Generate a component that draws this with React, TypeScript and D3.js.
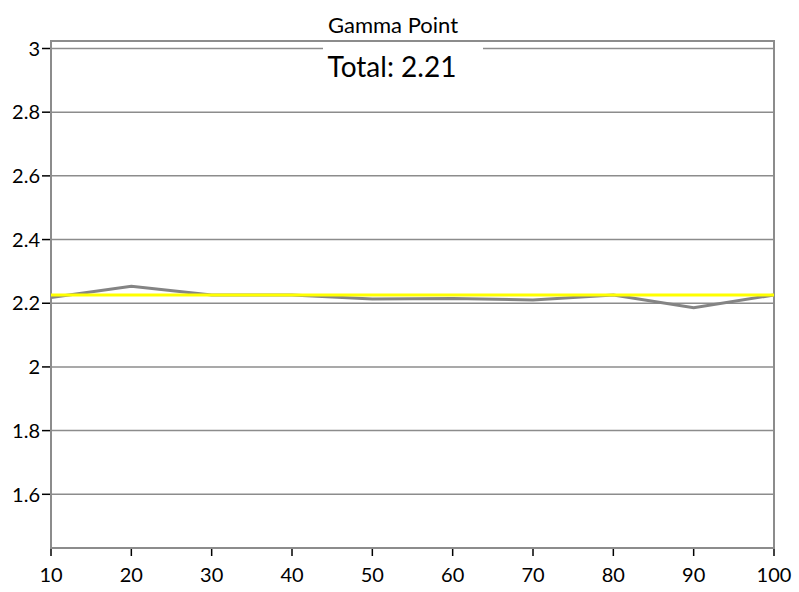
import React from "react";
import * as d3 from "d3";

const xValues = [10, 20, 30, 40, 50, 60, 70, 80, 90, 100];
const gammaValues = [2.218, 2.253, 2.226, 2.226, 2.213, 2.215, 2.21, 2.226, 2.186, 2.226];
const targetGamma = 2.226;
const yTicks = [1.6, 1.8, 2, 2.2, 2.4, 2.6, 2.8, 3];
const xTicks = [10, 20, 30, 40, 50, 60, 70, 80, 90, 100];
const titleText = "Gamma Point";
const totalText = "Total: 2.21";

const W = 799;
const H = 592;
const left = 51;
const right = 774;
const top = 41;
const bottom = 548;
const FONT = "Lato, 'Open Sans', sans-serif";

export default function App() {
  const x = d3.scaleLinear().domain([10, 100]).range([left, right]);
  const y = d3.scaleLinear().domain([1.6, 3]).range([494.3, 48.5]);
  const line = d3
    .line<number>()
    .x((_, i) => x(xValues[i]))
    .y((d) => y(d));

  return (
    <svg
      width={W}
      height={H}
      style={{ position: "absolute", left: 0, top: 0, background: "#fff" }}
    >
      {yTicks.map((t) => (
        <g key={t}>
          <line x1={left} x2={right} y1={y(t)} y2={y(t)} stroke="#8c8c8c" strokeWidth={1.5} />
          <line x1={left - 9} x2={left} y1={y(t)} y2={y(t)} stroke="#000" strokeWidth={1.5} />
          <text
            x={left - 11}
            y={y(t)}
            dy="0.36em"
            textAnchor="end"
            fontFamily={FONT}
            fontSize={20}
            fill="#000"
          >
            {String(t)}
          </text>
        </g>
      ))}
      {xTicks.map((t) => (
        <g key={t}>
          <line x1={x(t)} x2={x(t)} y1={bottom} y2={bottom + 8} stroke="#000" strokeWidth={1.5} />
          <text
            x={x(t)}
            y={582}
            textAnchor="middle"
            fontFamily={FONT}
            fontSize={20}
            fill="#000"
          >
            {String(t)}
          </text>
        </g>
      ))}
      <rect
        x={left}
        y={top}
        width={right - left}
        height={bottom - top}
        fill="none"
        stroke="#8c8c8c"
        strokeWidth={2}
      />
      <path d={line(gammaValues) || ""} fill="none" stroke="#848484" strokeWidth={3} />
      <line
        x1={x(10)}
        x2={x(100)}
        y1={y(targetGamma)}
        y2={y(targetGamma)}
        stroke="#ffff00"
        strokeWidth={3}
      />
      <rect x={323} y={44} width={160} height={40} fill="#fff" />
      <text x={393} y={33} textAnchor="middle" fontFamily={FONT} fontSize={22} fill="#000">
        {titleText}
      </text>
      <text x={392} y={77} textAnchor="middle" fontFamily={FONT} fontSize={28} fill="#000">
        {totalText}
      </text>
    </svg>
  );
}
